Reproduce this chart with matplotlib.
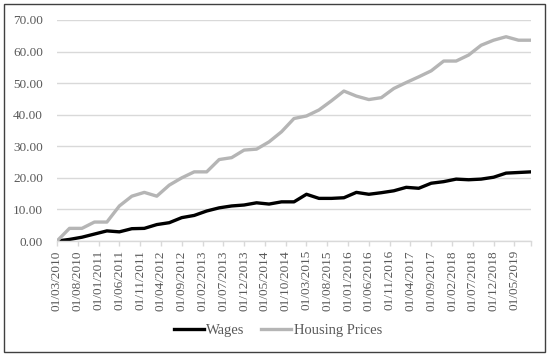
import numpy as np
import pandas as pd
import matplotlib
matplotlib.use("Agg")
import matplotlib.pyplot as plt
from matplotlib.patches import Rectangle

# quarterly observations, Mar 2010 .. Sep 2019
dates = pd.date_range("2010-03-01", periods=39, freq="3MS")

wages = [0.0, 0.5, 1.2, 2.2, 3.2, 2.9, 3.9, 4.0, 5.2, 5.8,
         7.4, 8.1, 9.5, 10.5, 11.1, 11.4, 12.1, 11.7, 12.4, 12.4,
         14.8, 13.5, 13.5, 13.7, 15.4, 14.8, 15.3, 15.9, 17.0, 16.7,
         18.3, 18.8, 19.6, 19.4, 19.6, 20.2, 21.5, 21.7, 21.9]

housing = [0.0, 4.0, 4.0, 6.0, 6.0, 11.1, 14.2, 15.4, 14.2, 17.7,
           20.0, 21.9, 21.9, 25.8, 26.4, 28.8, 29.1, 31.4, 34.6, 38.8,
           39.6, 41.5, 44.4, 47.5, 45.9, 44.8, 45.4, 48.3, 50.2, 52.0,
           53.9, 57.0, 57.0, 58.9, 62.0, 63.6, 64.7, 63.6, 63.6]

tick_dates = pd.date_range("2010-03-01", periods=23, freq="5MS")
tick_labels = [d.strftime("%d/%m/%Y") for d in tick_dates]

y_ticks = np.arange(0, 71, 10)

TXT = "#595959"
GRID = "#d9d9d9"
FONT = "Liberation Serif"


def month_index(d):
    # months since the first observation (Excel date axis, month base)
    return (d.year - 2010) * 12 + d.month - 3


x = month_index(dates)
xt = month_index(tick_dates)

fig = plt.figure(figsize=(5.5, 3.57), dpi=100)
ax = fig.add_axes([57 / 550, 1 - 241 / 357, (531 - 57) / 550, (241 - 20) / 357])

ax.plot(x, wages, color="black", lw=2.4, label="Wages", solid_joinstyle="round")
ax.plot(x, housing, color="#b5b5b5", lw=2.4, label="Housing Prices", solid_joinstyle="round")

ax.set_xlim(0, x[-1])
ax.set_ylim(0, 70)

ax.set_yticks(y_ticks)
ax.set_yticklabels([f"{v:.2f}" for v in y_ticks], family=FONT, fontsize=9.5, color=TXT)
ax.yaxis.grid(True, color=GRID, lw=1)
ax.set_axisbelow(True)

ax.set_xticks(list(xt) + [x[-1]])
ax.set_xticklabels(tick_labels + [""], rotation=90, family=FONT, fontsize=9.5, color=TXT)

ax.tick_params(axis="y", length=0, pad=10)
ax.tick_params(axis="x", length=3.6, color=GRID, width=1, pad=3)

for s in ["top", "right", "left"]:
    ax.spines[s].set_visible(False)
ax.spines["bottom"].set_color(GRID)
ax.spines["bottom"].set_linewidth(1)

leg = fig.legend(loc="center", bbox_to_anchor=(0.505, 1 - 330 / 357), ncol=2,
                 frameon=False, prop={"family": FONT, "size": 10.5},
                 handlelength=2.1, handletextpad=0.15, columnspacing=1.1)
for t in leg.get_texts():
    t.set_color(TXT)

# chart area border
fig.patches.append(Rectangle((4 / 550, 1 - 352 / 357), 541 / 550, 348 / 357,
                             transform=fig.transFigure, fill=False,
                             edgecolor="#404040", lw=1))

fig.savefig("out.png", dpi=100)
